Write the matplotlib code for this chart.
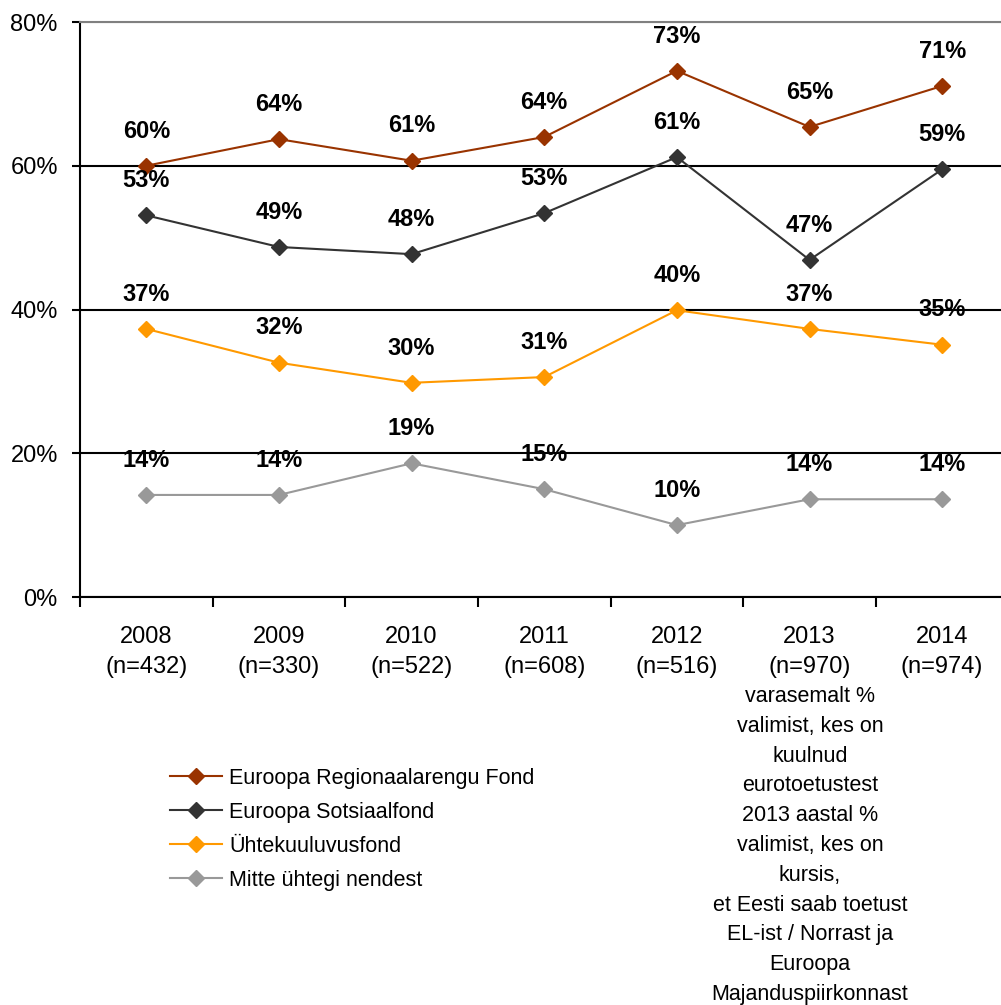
import matplotlib
matplotlib.use('Agg')
import matplotlib.pyplot as plt
import numpy as np
from matplotlib import rcParams

rcParams['font.family'] = 'Liberation Sans'

years = ['2008', '2009', '2010', '2011', '2012', '2013', '2014']
sizes = ['432', '330', '522', '608', '516', '970', '974']

erdf = [60, 63.7, 60.7, 64.0, 73.2, 65.4, 71.1]
esf = [53.1, 48.7, 47.7, 53.4, 61.2, 46.9, 59.5]
cohesion = [37.3, 32.6, 29.8, 30.6, 39.9, 37.3, 35.1]
none_of = [14.2, 14.2, 18.6, 15.0, 10.0, 13.6, 13.6]

label_erdf = ['60%', '64%', '61%', '64%', '73%', '65%', '71%']
label_esf = ['53%', '49%', '48%', '53%', '61%', '47%', '59%']
label_coh = ['37%', '32%', '30%', '31%', '40%', '37%', '35%']
label_none = ['14%', '14%', '19%', '15%', '10%', '14%', '14%']

names = ['Euroopa Regionaalarengu Fond', 'Euroopa Sotsiaalfond',
         'Ühtekuuluvusfond', 'Mitte ühtegi nendest']
colors = ['#993300', '#333333', '#FF9900', '#999999']

footnote = ('varasemalt %\nvalimist, kes on\nkuulnud\neurotoetustest\n'
            '2013 aastal %\nvalimist, kes on\nkursis,\net Eesti saab toetust\n'
            'EL-ist / Norrast ja\nEuroopa\nMajanduspiirkonnast')

fig = plt.figure(figsize=(10.01, 10.05), dpi=100)
ax = fig.add_axes([80 / 1001, 408 / 1005, 928.5 / 1001, 575 / 1005])

x = np.arange(len(years))
series = [erdf, esf, cohesion, none_of]
labels = [label_erdf, label_esf, label_coh, label_none]
for vals, labs, name, c in zip(series, labels, names, colors):
    ax.plot(x, vals, color=c, lw=1.5, marker='D', ms=8, label=name, clip_on=False)
    for xi, v, t in zip(x, vals, labs):
        ax.annotate(t, (xi, v), xytext=(0, 25), textcoords='offset points',
                    ha='center', va='center', fontsize=17, fontweight='bold')

ax.set_xlim(-0.5, 6.5)
ax.set_ylim(0, 80)
ax.set_yticks([0, 20, 40, 60, 80])
ax.set_yticklabels(['0%', '20%', '40%', '60%', '80%'])
ax.tick_params(axis='y', direction='out', length=6, width=1.5, pad=10, labelsize=17)

ax.set_xticks(np.arange(-0.5, 7, 1))
ax.set_xticklabels([])
ax.set_xticks(x, minor=True)
ax.set_xticklabels([y + '\n(n=' + n + ')' for y, n in zip(years, sizes)], minor=True)
ax.tick_params(axis='x', which='major', direction='out', length=7, width=1.5)
ax.tick_params(axis='x', which='minor', length=0, pad=21, labelsize=17)
for lab in ax.get_xticklabels(minor=True):
    lab.set_linespacing(1.48)

ax.yaxis.grid(True, color='black', lw=1.5)
ax.set_axisbelow(True)
ax.get_ygridlines()[-1].set_color('#808080')
for s in ['left', 'bottom']:
    ax.spines[s].set_linewidth(1.5)
ax.spines['top'].set_color('#808080')
ax.spines['top'].set_linewidth(1.5)
ax.spines['right'].set_visible(False)

fig.text(810 / 1001, 1 - 686 / 1005, footnote, ha='center', va='top',
         fontsize=15.5, linespacing=1.55)

fig.legend(loc='upper left', bbox_to_anchor=(170 / 1001, 1 - 768 / 1005),
           frameon=False, fontsize=15.5, handlelength=2.4, handletextpad=0.35,
           labelspacing=0.6, borderpad=0, borderaxespad=0)

fig.savefig('out.png', dpi=100)
